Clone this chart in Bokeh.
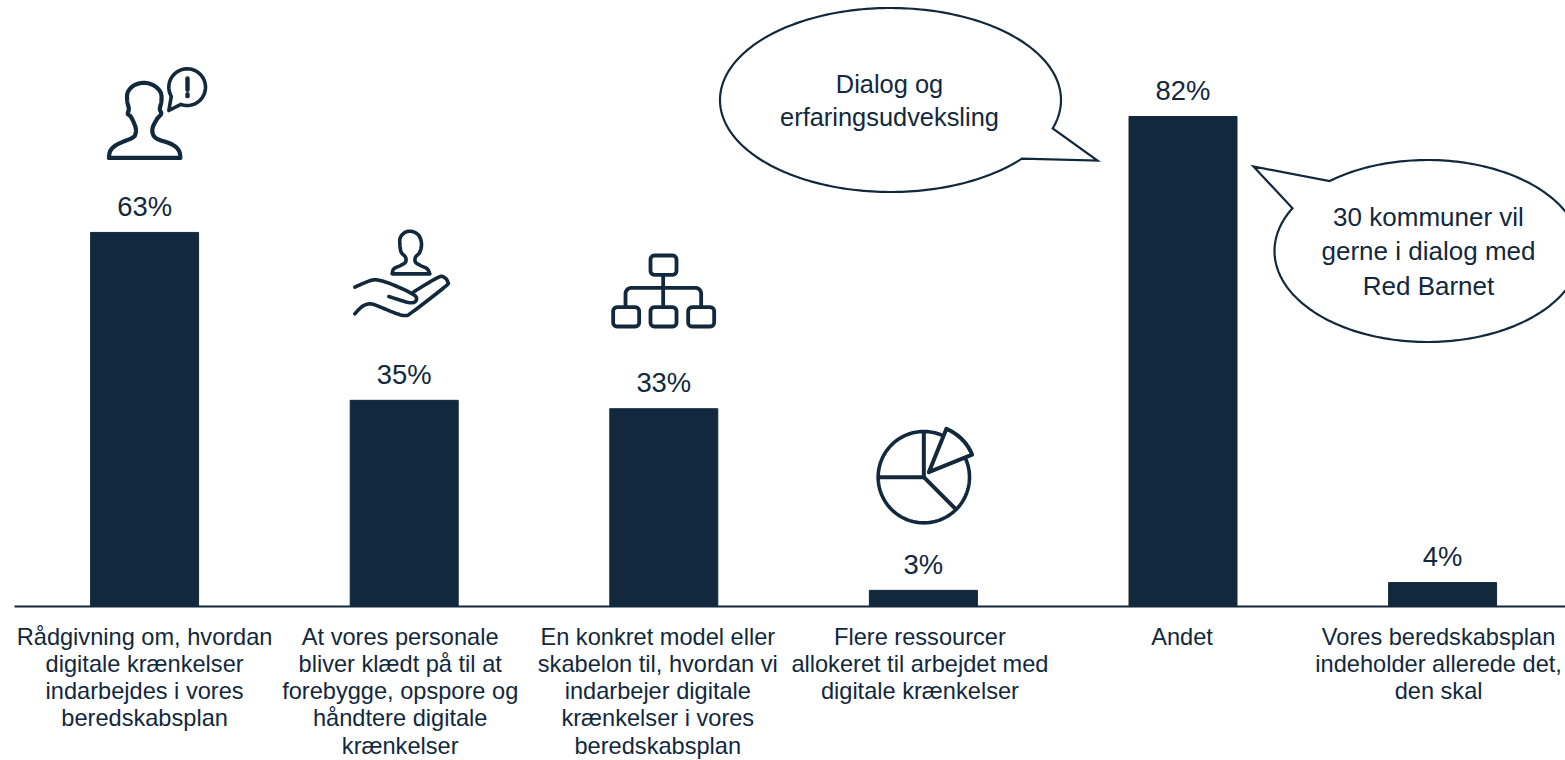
import numpy as np
from bokeh.plotting import figure
from bokeh.embed import file_html
from bokeh.resources import INLINE
from bokeh.models import Range1d, LinearAxis, FixedTicker, AllLabels
from bokeh.core.properties import value

# ---- data ----
categories = [
    "Rådgivning om, hvordan\ndigitale krænkelser\nindarbejdes i vores\nberedskabsplan",
    "At vores personale\nbliver klædt på til at\nforebygge, opspore og\nhåndtere digitale\nkrænkelser",
    "En konkret model eller\nskabelon til, hvordan vi\nindarbejer digitale\nkrænkelser i vores\nberedskabsplan",
    "Flere ressourcer\nallokeret til arbejdet med\ndigitale krænkelser",
    "Andet",
    "Vores beredskabsplan\nindeholder allerede det,\nden skal",
]
values = [62.6, 34.5, 33.1, 2.7, 82.0, 4.0]
labels = ["63%", "35%", "33%", "3%", "82%", "4%"]
callout_1 = "Dialog og\nerfaringsudveksling"
callout_2 = "30 kommuner vil\ngerne i dialog med\nRed Barnet"

NAVY = "#12283c"
FONT = "Liberation Sans"
W, H = 1565, 760
LEFT = 14
BASE = 606
x_unit = 259.6
x0 = 144.1
y_unit = 490 / 82
idx = list(range(len(values)))
# the reference's category labels sit slightly left of their bars
label_nudge_px = [0, -4, -6, -3.5, -1, -4]
label_ticks = [i + d / x_unit for i, d in zip(idx, label_nudge_px)]

p = figure(width=W, height=H, output_backend="svg", toolbar_location=None,
           x_range=Range1d((LEFT - x0) / x_unit, (W - x0) / x_unit),
           y_range=Range1d(0, BASE / y_unit),
           x_axis_type=None, y_axis_type=None,
           min_border_left=LEFT, min_border_right=0, min_border_top=0,
           min_border_bottom=H - BASE, outline_line_color=None,
           background_fill_color="white", border_fill_color="white")
p.grid.visible = False
p.frame_height = BASE

# overlay ranges measured in page pixels, for the shapes around the chart
p.extra_x_ranges["px"] = Range1d(LEFT, W)
p.extra_y_ranges["px"] = Range1d(BASE, 0)

axis = LinearAxis(ticker=FixedTicker(ticks=label_ticks),
                  major_label_overrides={t: c for t, c in zip(label_ticks, categories)},
                  major_label_policy=AllLabels(),
                  major_label_text_font=FONT, major_label_text_font_size="23.6px",
                  major_label_text_line_height=1.05,
                  major_label_text_color=NAVY, major_label_standoff=11,
                  major_tick_line_color=None, minor_tick_line_color=None,
                  axis_line_color=NAVY, axis_line_width=2)
p.add_layout(axis, "below")

p.vbar(x=idx, top=values, bottom=0, width=108 / x_unit, color=NAVY)
p.text(x=idx, y=values, text=labels, text_font=value(FONT), text_font_size="27.4px",
       text_color=NAVY, text_align="center", text_baseline="middle", y_offset=-26)


def line(xs, ys, w=4.0):
    p.line(xs, ys, x_range_name="px", y_range_name="px", line_color=NAVY,
           line_width=w, line_join="round", line_cap="round")


def smooth(pts, n=8):
    pts = np.asarray(pts, float)
    P = np.vstack([pts[0], pts, pts[-1]])
    out = []
    for i in range(1, len(P) - 2):
        for t in np.linspace(0, 1, n, endpoint=False):
            a, b, c, d = P[i - 1], P[i], P[i + 1], P[i + 2]
            out.append(0.5 * (2 * b + (c - a) * t + (2 * a - 5 * b + 4 * c - d) * t**2 + (3 * b - a - 3 * c + d) * t**3))
    out.append(P[-2])
    return np.array(out)


def z(pts, ox, oy):
    return np.asarray(pts, float) / 3 + [ox, oy]


def bubble(cx, cy, rx, ry, a, tip, b):
    ang_a = np.arctan2((a[1] - cy) / ry, (a[0] - cx) / rx)
    ang_b = np.arctan2((b[1] - cy) / ry, (b[0] - cx) / rx)
    if ang_b <= ang_a:
        ang_b += 2 * np.pi
    t = np.linspace(ang_b, ang_a + 2 * np.pi, 240)
    xs = np.r_[cx + rx * np.cos(t), tip[0], cx + rx * np.cos(t[0])]
    ys = np.r_[cy + ry * np.sin(t), tip[1], cy + ry * np.sin(t[0])]
    p.patch(xs, ys, x_range_name="px", y_range_name="px", fill_color="white",
            line_color=NAVY, line_width=2.2, line_join="miter")


bubble(890, 99.5, 170.5, 92, (1053, 128), (1097, 160), (1021, 158))
bubble(1427, 250.5, 153, 91, (1293, 208), (1253, 166), (1331, 182))


def ctext(x, y, t, size):
    p.text([x], [y], text=[t], x_range_name="px", y_range_name="px", text_font=value(FONT),
           text_font_size=size, text_color=NAVY, text_align="center",
           text_baseline="middle", text_line_height=1.16)


ctext(889, 100, callout_1, "25.4px")
ctext(1428, 251, callout_2, "26px")

# --- icon 1: person with a speech mark
person1 = [(55,322),(60,300),(80,282),(125,262),(135,250),(135,230),(122,200),(112,190),(115,175),(110,150),
           (112,125),(130,105),(160,97),(190,105),(210,125),(213,150),(208,175),(212,190),(200,205),(187,230),
           (187,250),(200,265),(245,282),(265,300),(270,322)]
q = z(smooth(person1), 90, 50)
line(np.r_[q[:, 0], q[0, 0]], np.r_[q[:, 1], q[0, 1]], 4.2)
ang = np.radians(np.linspace(150, 470, 90))
bq = z(np.c_[np.r_[290 + 55 * np.cos(ang), 235, 290 + 55 * np.cos(ang[0])],
             np.r_[110 + 55 * np.sin(ang), 180, 110 + 55 * np.sin(ang[0])]], 90, 50)
line(bq[:, 0], bq[:, 1], 3.6)
line([90 + 291 / 3, 90 + 291 / 3], [50 + 84 / 3, 50 + 118 / 3], 4.4)
line([90 + 291 / 3, 90 + 291 / 3], [50 + 131 / 3, 50 + 137 / 3], 4.4)

# --- icon 2: person on a hand
person2 = [(155,160),(160,145),(180,135),(195,125),(195,110),(182,95),(178,70),(180,50),(195,35),(215,33),
           (235,45),(243,70),(238,95),(225,110),(225,125),(240,135),(260,145),(268,160)]
q = z(smooth(person2), 340, 220)
line(np.r_[q[:, 0], q[0, 0]], np.r_[q[:, 1], q[0, 1]], 3.6)
hand1 = [(43,200),(70,188),(100,178),(130,183),(170,198),(215,220),(228,232),(222,245),(200,245),(145,228)]
q = z(smooth(hand1), 340, 220)
line(q[:, 0], q[:, 1], 3.6)
hand2 = [(218,215),(290,172),(310,170),(322,185),(312,200),(215,275),(195,285),(170,280),(120,260),(90,250),(65,258),(43,280)]
q = z(smooth(hand2), 340, 220)
line(q[:, 0], q[:, 1], 3.6)


# --- icon 3: organisation chart
def rbox(x1, y1, x2, y2, r=12):
    a = np.radians(np.linspace(0, 90, 8))
    xs = np.r_[x2 - r + r * np.cos(a), x1 + r - r * np.sin(a), x1 + r - r * np.cos(a), x2 - r + r * np.sin(a), x2]
    ys = np.r_[y2 - r + r * np.sin(a), y2 - r + r * np.cos(a), y1 + r - r * np.sin(a), y1 + r - r * np.cos(a), y2 - r]
    q = z(np.c_[xs, ys], 600, 240)
    line(q[:, 0], q[:, 1], 3.8)


rbox(150, 45, 228, 103)
rbox(38, 200, 116, 258)
rbox(150, 200, 228, 258)
rbox(263, 200, 341, 258)
q = z([(188, 103), (188, 200)], 600, 240)
line(q[:, 0], q[:, 1], 3.8)
a = np.radians(np.linspace(0, 90, 8))
arc = np.r_[np.c_[93 - 18 * np.cos(a), 160 - 18 * np.sin(a)], np.c_[285 + 17 * np.sin(a), 142 + 18 * (1 - np.cos(a))]]
q = z(np.vstack([[(75, 198)], arc, [(302, 198)]]), 600, 240)
line(q[:, 0], q[:, 1], 3.8)

# --- icon 4: pie with a lifted slice
t = np.radians(np.linspace(-24, 294, 160))
q = z(np.c_[190 + 137 * np.cos(t), 185 + 137 * np.sin(t)], 860, 415)
line(q[:, 0], q[:, 1], 3.6)
for seg in ([(190, 52), (190, 185)], [(55, 185), (190, 185)], [(190, 185), (285, 280)]):
    q = z(seg, 860, 415)
    line(q[:, 0], q[:, 1], 4.0)
t = np.radians(np.linspace(-68, -22, 30))
q = z(np.c_[np.r_[205, 205 + 140 * np.cos(t), 205], np.r_[170, 170 + 140 * np.sin(t), 170]], 860, 415)
line(q[:, 0], q[:, 1], 4.0)

open("out.html", "w").write(file_html(p, INLINE))
